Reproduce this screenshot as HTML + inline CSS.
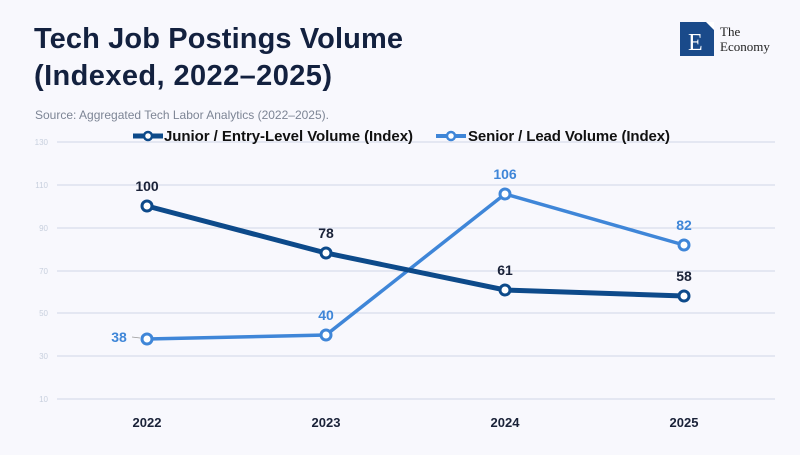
<!DOCTYPE html>
<html><head><style>
body{margin:0;width:800px;height:450px;background:#f8f8fd;font-family:"Liberation Sans",sans-serif;overflow:hidden}
</style></head><body>
<svg width="800" height="450" xmlns="http://www.w3.org/2000/svg" font-family="Liberation Sans, sans-serif">
<rect width="800" height="450" fill="#f8f8fd"/>
<text x="34" y="48" font-size="29" font-weight="bold" fill="#13213f" textLength="369">Tech Job Postings Volume</text>
<text x="34" y="85" font-size="29" font-weight="bold" fill="#13213f" textLength="298">(Indexed, 2022–2025)</text>
<text x="35" y="119" font-size="12" fill="#7d8595">Source: Aggregated Tech Labor Analytics (2022–2025).</text>
<rect x="680" y="22" width="34" height="34" fill="#1a4a8a"/>
<polygon points="706,22 714,22 714,30" fill="#fff"/>
<text x="688" y="50" font-family="Liberation Serif, serif" font-size="24" fill="#fff">E</text>
<text x="720" y="36" font-family="Liberation Serif, serif" font-size="13" fill="#222">The</text>
<text x="720" y="51" font-family="Liberation Serif, serif" font-size="13" fill="#222">Economy</text>
<g stroke="#cfd6e6" stroke-width="1">
<line x1="57" x2="775" y1="142" y2="142"/><line x1="57" x2="775" y1="185" y2="185"/><line x1="57" x2="775" y1="228" y2="228"/><line x1="57" x2="775" y1="271" y2="271"/><line x1="57" x2="775" y1="313" y2="313"/><line x1="57" x2="775" y1="356" y2="356"/><line x1="57" x2="775" y1="399" y2="399"/>
</g>
<g font-size="8" fill="#c8d0de" text-anchor="end">
<text x="48" y="145">130</text><text x="48" y="188">110</text><text x="48" y="231">90</text><text x="48" y="274">70</text><text x="48" y="316">50</text><text x="48" y="359">30</text><text x="48" y="402">10</text>
</g>
<g font-size="13" font-weight="bold" fill="#1a2238" text-anchor="middle">
<text x="147" y="427">2022</text><text x="326" y="427">2023</text><text x="505" y="427">2024</text><text x="684" y="427">2025</text>
</g>
<line x1="133" x2="163" y1="136" y2="136" stroke="#0d4a8a" stroke-width="5"/><circle cx="148" cy="136" r="4" fill="#fff" stroke="#0d4a8a" stroke-width="2.5"/>
<text x="164" y="141" font-size="15" font-weight="bold" fill="#111" textLength="249">Junior / Entry-Level Volume (Index)</text>
<line x1="436" x2="466" y1="136" y2="136" stroke="#3f86d8" stroke-width="4"/><circle cx="451" cy="136" r="4" fill="#fff" stroke="#3f86d8" stroke-width="2.5"/>
<text x="468" y="141" font-size="15" font-weight="bold" fill="#111" textLength="202">Senior / Lead Volume (Index)</text>
<polyline points="147,339 326,335 505,194 684,245" fill="none" stroke="#3f86d8" stroke-width="3.5"/>
<polyline points="147,206 326,253 505,290 684,296" fill="none" stroke="#0d4a8a" stroke-width="5"/>
<g fill="#fff" stroke="#3f86d8" stroke-width="3"><circle cx="147" cy="339" r="5"/><circle cx="326" cy="335" r="5"/><circle cx="505" cy="194" r="5"/><circle cx="684" cy="245" r="5"/></g>
<g fill="#fff" stroke="#0d4a8a" stroke-width="3"><circle cx="147" cy="206" r="5"/><circle cx="326" cy="253" r="5"/><circle cx="505" cy="290" r="5"/><circle cx="684" cy="296" r="5"/></g>
<g font-size="14" font-weight="bold" fill="#1a2238" text-anchor="middle">
<text x="147" y="191">100</text><text x="326" y="238">78</text><text x="505" y="275">61</text><text x="684" y="281">58</text>
</g>
<g font-size="14" font-weight="bold" fill="#3f86d8" text-anchor="middle">
<text x="119" y="342">38</text><text x="326" y="320">40</text><text x="505" y="179">106</text><text x="684" y="230">82</text>
</g>
<line x1="132" x2="140" y1="337" y2="338" stroke="#999" stroke-width="0.8"/>
</svg>
</body></html>
